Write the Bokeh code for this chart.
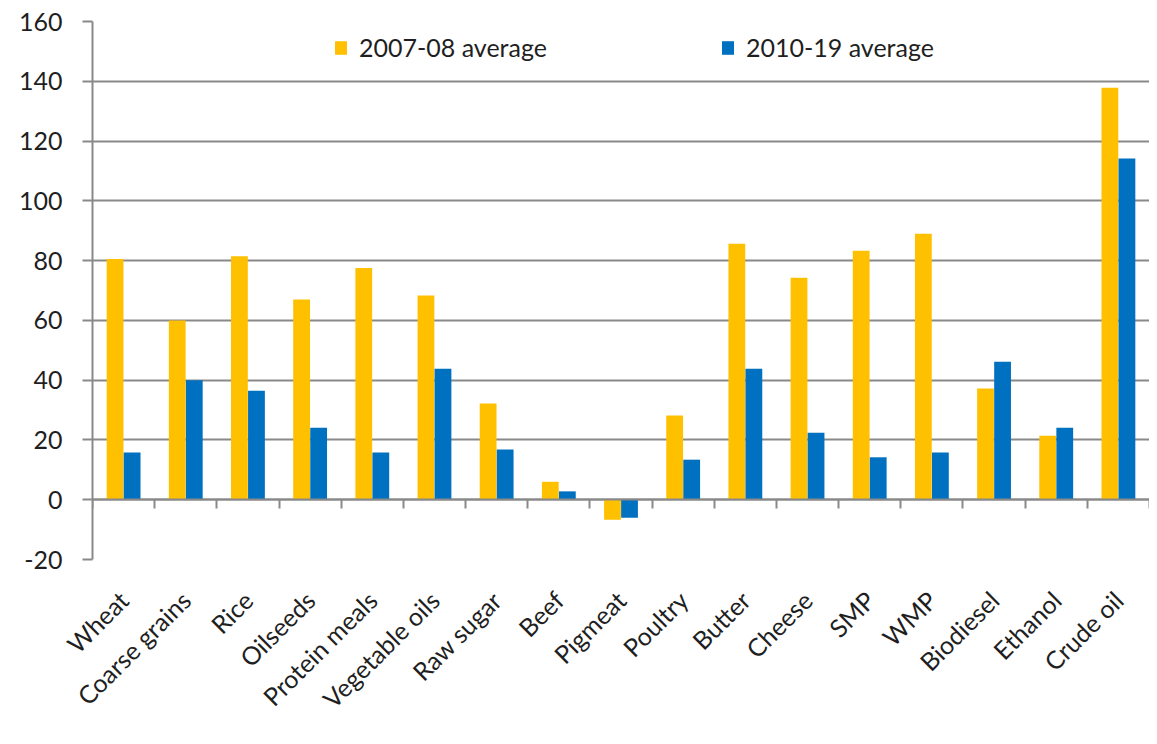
import math
from bokeh.plotting import figure
from bokeh.models import (Range1d, LinearAxis, FixedTicker, Legend,
                          LegendItem, ColumnDataSource)
from bokeh.transform import dodge
from bokeh.embed import file_html
from bokeh.resources import INLINE

categories = ["Wheat", "Coarse grains", "Rice", "Oilseeds", "Protein meals",
              "Vegetable oils", "Raw sugar", "Beef", "Pigmeat", "Poultry", "Butter",
              "Cheese", "SMP", "WMP", "Biodiesel", "Ethanol", "Crude oil"]
avg_2007_08 = [80.5, 60.0, 81.5, 67.0, 77.5, 68.3, 32.2, 6.0, -6.7, 28.2, 85.6,
               74.3, 83.3, 89.0, 37.2, 21.4, 137.8]
avg_2010_19 = [15.8, 40.0, 36.5, 24.1, 15.8, 43.8, 16.8, 2.8, -6.0, 13.4, 43.8,
               22.4, 14.2, 15.8, 46.2, 24.1, 114.2]
series_names = ["2007-08 average", "2010-19 average"]
y_ticks = [-20, 0, 20, 40, 60, 80, 100, 120, 140, 160]

n = len(categories)
centers = [i + 0.5 for i in range(n)]          # category slot centres
edge_ticks = list(range(n + 1))                # slot boundaries (tick marks)

FONT = "Lato"
FS = "25px"
TEXT = "#1f1f1f"
GRID = "#898989"
YELLOW = "#FFC000"
BLUE = "#0070C0"

src = ColumnDataSource(dict(x=centers, a=avg_2007_08, b=avg_2010_19))

p = figure(x_range=Range1d(0, n), y_range=Range1d(-20, 160),
           width=1149, height=736, output_backend="svg", toolbar_location=None,
           min_border_left=92, min_border_right=0, min_border_top=21,
           min_border_bottom=177, x_axis_location=None)
p.outline_line_color = None
p.background_fill_color = "white"

r1 = p.vbar(x=dodge("x", -0.137), top="a", width=0.27,
            source=src, fill_color=YELLOW, line_color=None)
r2 = p.vbar(x=dodge("x", 0.137), top="b", width=0.27,
            source=src, fill_color=BLUE, line_color=None)

# grid
p.xgrid.grid_line_color = None
p.ygrid.ticker = FixedTicker(ticks=y_ticks)
p.ygrid.grid_line_color = GRID
p.ygrid.grid_line_width = 2

# y axis
p.yaxis.ticker = FixedTicker(ticks=y_ticks)
p.yaxis.major_label_overrides = {t: str(t) for t in y_ticks}
p.yaxis.axis_line_color = GRID
p.yaxis.axis_line_width = 2
p.yaxis.major_tick_line_color = GRID
p.yaxis.major_tick_line_width = 2
p.yaxis.major_tick_out = 10
p.yaxis.major_tick_in = 0
p.yaxis.minor_tick_line_color = None
p.yaxis.major_label_text_font = FONT
p.yaxis.major_label_text_font_size = FS
p.yaxis.major_label_text_color = TEXT
p.yaxis.major_label_standoff = 20

# category labels axis (bottom)
xa = LinearAxis(ticker=FixedTicker(ticks=centers),
                major_label_overrides={c: lab for c, lab in zip(centers, categories)},
                axis_line_color=None, major_tick_line_color=None,
                minor_tick_line_color=None, major_label_orientation=math.pi / 4,
                major_label_text_font=FONT, major_label_text_font_size=FS,
                major_label_text_color=TEXT, major_label_standoff=30)
p.add_layout(xa, "below")

# zero-line axis with ticks between categories (no labels)
zax = LinearAxis(ticker=FixedTicker(ticks=edge_ticks),
                 major_label_overrides={t: "" for t in edge_ticks},
                 fixed_location=0, axis_line_color=GRID, axis_line_width=2,
                 major_tick_line_color=GRID, major_tick_line_width=2,
                 major_tick_out=9, major_tick_in=0, minor_tick_line_color=None,
                 major_label_text_font_size="1px", major_label_standoff=0)
p.add_layout(zax, "below")

common = dict(orientation="horizontal", border_line_color=None,
              background_fill_alpha=0, label_text_font=FONT,
              label_text_font_size=FS, label_text_color=TEXT,
              glyph_width=15, glyph_height=17, label_standoff=11,
              padding=0, margin=0)
leg1 = Legend(items=[LegendItem(label=series_names[0], renderers=[r1])],
              location=(241, 497), **common)
leg2 = Legend(items=[LegendItem(label=series_names[1], renderers=[r2])],
              location=(628, 497), **common)
p.add_layout(leg1)
p.add_layout(leg2)

open("out.html", "w").write(file_html(p, INLINE))
